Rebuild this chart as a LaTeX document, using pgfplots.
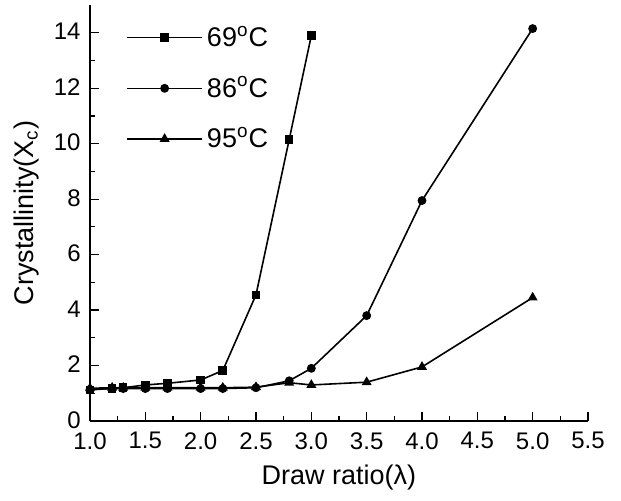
\documentclass[border=0pt]{standalone}
\usepackage{pgfplots}
\pgfplotsset{compat=1.18}
\usepackage{fontspec}
\setmainfont{Liberation Sans}
\begin{document}
\begin{tikzpicture}
\begin{axis}[
  scale only axis,
  width=249pt, height=208pt,
  xmin=1.0, xmax=5.5, ymin=0, ymax=15,
  axis x line*=bottom, axis y line*=left,
  axis line style={line width=0.75pt},
  xtick={1.0,1.5,...,5.5}, ytick={0,2,...,14},
  minor x tick num=1, minor y tick num=1,
  tick align=inside,
  major tick length=4.5pt, minor tick length=2.5pt,
  tick style={line width=0.6pt, black},
  xticklabel={\pgfmathprintnumber[fixed,fixed zerofill,precision=1]{\tick}},
  /pgf/number format/assume math mode=true,
  tick label style={font=\fontsize{12}{14}\selectfont, inner sep=1pt},
  xticklabel style={yshift=-4.5pt},
  yticklabel style={xshift=-3.5pt, yshift=0.5pt},
  xlabel={Draw ratio(λ)},
  ylabel={Crystallinity(X\textsubscript{c})},
  label style={font=\fontsize{13.5}{16}\selectfont},
  xlabel shift=3pt,
  ylabel shift=3pt,
  legend style={draw=none, fill=none, at={(rel axis cs:0.06,0.97)}, anchor=north west,
    font=\fontsize{13.5}{15}\selectfont, row sep=9.5pt},
  legend cell align=left,
  legend image code/.code={
    \draw[mark repeat=2,mark phase=2,#1] plot coordinates {(0cm,0cm) (0.66cm,0cm) (1.32cm,0cm)};
  },
]
\addplot[black, line width=0.8pt, mark=square*, mark size=1.75pt, mark options={solid, fill=black}] coordinates {
 (1.0,1.12) (1.2,1.18) (1.3,1.2) (1.5,1.3) (1.7,1.36) (2.0,1.48) (2.2,1.82) (2.5,4.55) (2.8,10.15) (3.0,13.9)};
\addlegendentry{69\textsuperscript{o}C}
\addplot[black, line width=0.8pt, mark=*, mark size=1.8pt, mark options={solid, fill=black}] coordinates {
 (1.0,1.14) (1.2,1.17) (1.3,1.17) (1.5,1.17) (1.7,1.17) (2.0,1.17) (2.2,1.17) (2.5,1.2) (2.8,1.45) (3.0,1.9) (3.5,3.8) (4.0,7.95) (5.0,14.15)};
\addlegendentry{86\textsuperscript{o}C}
\addplot[black, line width=0.8pt, mark=triangle*, mark size=2.1pt, mark options={solid, fill=black}] coordinates {
 (1.0,1.18) (1.2,1.2) (1.3,1.2) (1.5,1.2) (1.7,1.2) (2.0,1.2) (2.2,1.2) (2.5,1.22) (2.8,1.38) (3.0,1.3) (3.5,1.4) (4.0,1.95) (5.0,4.45)};
\addlegendentry{95\textsuperscript{o}C}
\end{axis}
\pgfresetboundingbox
\path[use as bounding box] (-45pt,-39.5pt) rectangle (265.5pt,210.5pt);
\end{tikzpicture}
\end{document}
